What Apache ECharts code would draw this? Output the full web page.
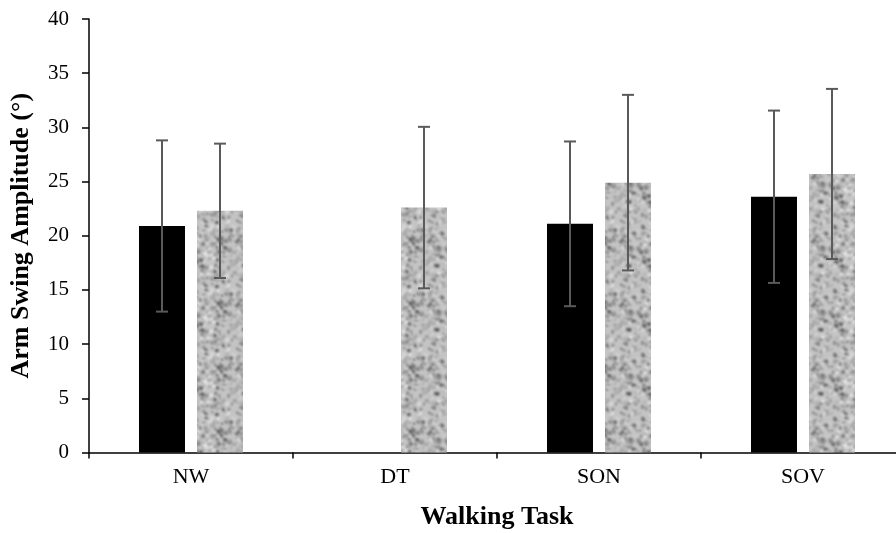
<!DOCTYPE html>
<html>
<head>
<meta charset="utf-8">
<title>Arm Swing Amplitude by Walking Task</title>
<script src="https://cdn.jsdelivr.net/npm/echarts@6/dist/echarts.min.js"></script>
<style>
  html, body { margin: 0; padding: 0; background: #fff; }
  #chart { width: 896px; height: 533px; }
</style>
</head>
<body>
<div id="chart"></div>
<script>
// Walking tasks on the x axis
const tasks = ['NW', 'DT', 'SON', 'SOV'];

// Group A (solid black bars): mean and standard deviation, degrees
const meanA = [20.9, null, 21.1, 23.6];
const sdA   = [7.9, null, 7.6, 7.95];

// Group B (textured grey bars): mean and standard deviation, degrees
const meanB = [22.3, 22.6, 24.9, 25.7];
const sdB   = [6.2, 7.45, 8.1, 7.85];

// Y axis range
const yMin = 0, yMax = 40, yStep = 5;

const SERIF = '"Liberation Serif", "Times New Roman", serif';

// Granite-like grey fill: soft grey specks scattered on a light base, tileable
function makeTexture() {
  const size = 64;
  const hash = (n) => {
    const v = Math.sin(n * 12.9898 + 78.233) * 43758.5453;
    return v - Math.floor(v);
  };
  const c = document.createElement('canvas');
  c.width = size; c.height = size;
  const ctx = c.getContext('2d');
  ctx.fillStyle = '#c4c4c4';
  ctx.fillRect(0, 0, size, size);
  const specks = 330;
  for (let n = 0; n < specks; n++) {
    const x = hash(n * 4 + 1) * size;
    const y = hash(n * 4 + 2) * size;
    const r = 0.8 + hash(n * 4 + 3) * 1.8;
    const t = hash(n * 4 + 4);
    let g;
    if (t < 0.15) g = 85 + t / 0.15 * 30;            // dark specks
    else if (t < 0.72) g = 135 + (t - 0.15) / 0.57 * 40; // mid grey
    else g = 205 + (t - 0.72) / 0.28 * 30;          // light flecks
    g = Math.round(g);
    ctx.fillStyle = 'rgb(' + g + ',' + g + ',' + g + ')';
    for (let ox = -size; ox <= size; ox += size) {
      for (let oy = -size; oy <= size; oy += size) {
        ctx.beginPath();
        ctx.ellipse(x + ox, y + oy, r, r * 0.75, t * Math.PI * 3, 0, Math.PI * 2);
        ctx.fill();
      }
    }
  }
  // lay out a 3x3 block of tiles, blur it as one image, keep the centre tile
  const big = document.createElement('canvas');
  big.width = size * 3; big.height = size * 3;
  const bctx = big.getContext('2d');
  for (let i = 0; i < 3; i++) for (let j = 0; j < 3; j++) bctx.drawImage(c, i * size, j * size);
  const soft = document.createElement('canvas');
  soft.width = size * 3; soft.height = size * 3;
  const sctx = soft.getContext('2d');
  sctx.filter = 'blur(0.8px)';
  sctx.drawImage(big, 0, 0);
  const out = document.createElement('canvas');
  out.width = size; out.height = size;
  out.getContext('2d').drawImage(soft, size, size, size, size, 0, 0, size, size);
  return out;
}

const barWidth = 46, barGapPx = 12;
const slotOffset = (barWidth + barGapPx) / 2;

// Error bar items: [category index, mean, sd, side(-1 left, +1 right)]
const errData = [];
tasks.forEach((t, i) => {
  if (meanA[i] != null) errData.push([i, meanA[i], sdA[i], -1]);
  if (meanB[i] != null) errData.push([i, meanB[i], sdB[i], 1]);
});

const chart = echarts.init(document.getElementById('chart'), null, { renderer: 'canvas' });

chart.setOption({
  animation: false,
  backgroundColor: '#ffffff',
  grid: { left: 89, top: 19, width: 816, height: 433.5, outerBoundsMode: 'none', containLabel: false },
  xAxis: {
    type: 'category',
    data: tasks,
    name: 'Walking Task',
    nameLocation: 'middle',
    nameGap: 52,
    nameTextStyle: { fontFamily: SERIF, fontSize: 26, fontWeight: 'bold', color: '#000' },
    axisLine: { lineStyle: { color: '#000', width: 1.5 } },
    axisTick: { show: true, length: 6, lineStyle: { color: '#000', width: 1.5 } },
    axisLabel: { fontFamily: SERIF, fontSize: 22, color: '#000', margin: 14 },
    splitLine: { show: false }
  },
  yAxis: {
    type: 'value',
    min: yMin, max: yMax, interval: yStep,
    name: 'Arm Swing Amplitude (°)',
    nameLocation: 'middle',
    nameGap: 55,
    nameRotate: 90,
    nameTextStyle: { fontFamily: SERIF, fontSize: 26, fontWeight: 'bold', color: '#000' },
    axisLine: { show: true, lineStyle: { color: '#000', width: 1.5 } },
    axisTick: { show: true, length: 7, lineStyle: { color: '#000', width: 1.5 } },
    axisLabel: { fontFamily: SERIF, fontSize: 21, color: '#000', margin: 20 },
    splitLine: { show: false }
  },
  series: [
    {
      name: 'Group A',
      type: 'bar',
      data: meanA,
      barWidth: barWidth,
      barGap: (barGapPx / barWidth * 100).toFixed(1) + '%',
      itemStyle: { color: '#000000' }
    },
    {
      name: 'Group B',
      type: 'bar',
      data: meanB,
      barWidth: barWidth,
      itemStyle: { color: { image: makeTexture(), repeat: 'repeat' } }
    },
    {
      name: 'SD',
      type: 'custom',
      data: errData,
      z: 10,
      encode: { x: 0, y: [1] },
      renderItem: function (params, api) {
        const cat = api.value(0), m = api.value(1), s = api.value(2), side = api.value(3);
        const hi = api.coord([cat, m + s]);
        const lo = api.coord([cat, m - s]);
        const x = hi[0] + side * slotOffset;
        const cap = 6;
        const style = { stroke: '#5a5a5a', lineWidth: 2 };
        return {
          type: 'group',
          children: [
            { type: 'line', shape: { x1: x, y1: hi[1], x2: x, y2: lo[1] }, style: style },
            { type: 'line', shape: { x1: x - cap, y1: hi[1], x2: x + cap, y2: hi[1] }, style: style },
            { type: 'line', shape: { x1: x - cap, y1: lo[1], x2: x + cap, y2: lo[1] }, style: style }
          ]
        };
      }
    }
  ]
});
</script>
</body>
</html>
